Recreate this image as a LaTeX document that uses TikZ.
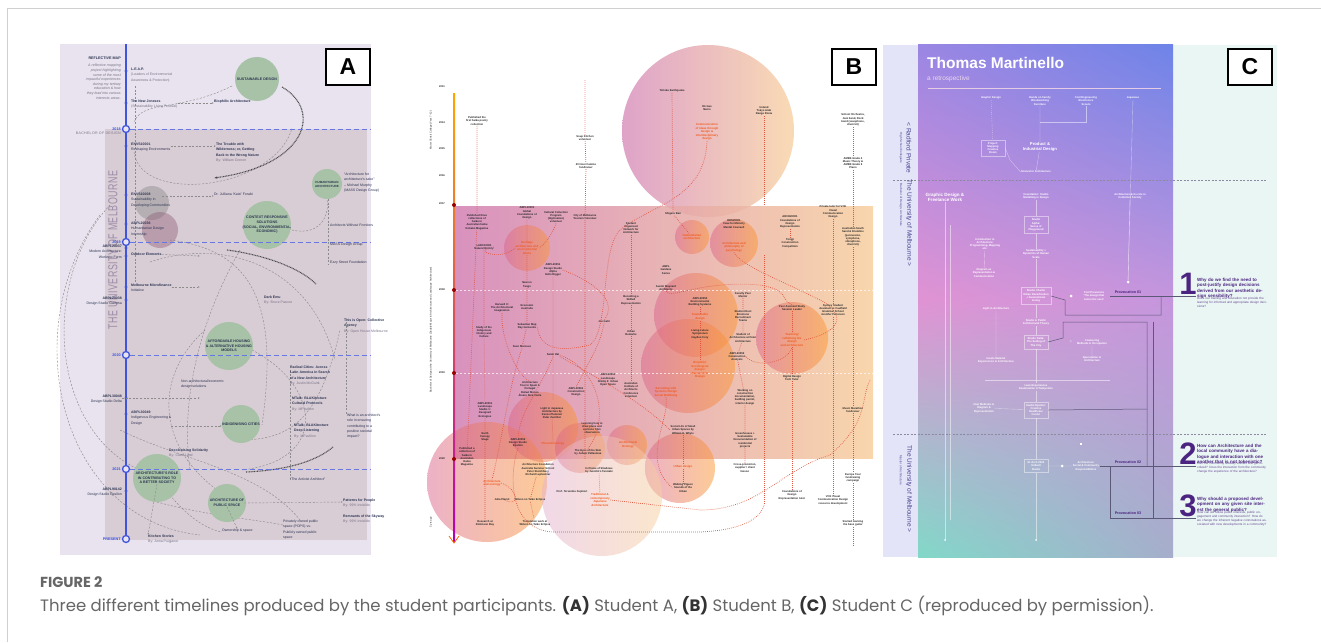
\documentclass[tikz,border=0pt]{standalone}
\usepackage{fontspec}
\setmainfont{Liberation Sans}
\newfontfamily\capfont{Poppins}
\usetikzlibrary{positioning, calc, arrows.meta, shadings}

\definecolor{frameline}{HTML}{CFCFCF}
\definecolor{lavbg}{HTML}{E8E3EE}
\definecolor{mauve}{HTML}{D8CCD5}
\definecolor{sage}{HTML}{A7C2A6}
\definecolor{tlblue}{HTML}{3F55DE}
\definecolor{navytxt}{HTML}{2C3452}
\definecolor{greytxt}{HTML}{7B7588}
\definecolor{uomgrey}{HTML}{9C8CA8}
\definecolor{dotred}{HTML}{E0553E}
\definecolor{hotorange}{HTML}{F05A1E}
\definecolor{magpink}{HTML}{D27FB3}
\definecolor{peach}{HTML}{F8CF9E}
\definecolor{cstrip}{HTML}{E3E4F7}
\definecolor{mint}{HTML}{EAF6F4}
\definecolor{ctopl}{HTML}{9B86E3}
\definecolor{ctopr}{HTML}{6E84E8}
\definecolor{cmidl}{HTML}{E093D3}
\definecolor{cmidr}{HTML}{C596DD}
\definecolor{cbotl}{HTML}{82D8C9}
\definecolor{cbotr}{HTML}{A6AECB}
\definecolor{provpurple}{HTML}{4B2380}
\definecolor{provgrey}{HTML}{5C5878}
\definecolor{captxt}{HTML}{666666}

\newcommand{\by}[1]{{\color{greytxt}#1}}

\tikzset{
  frame/.style={draw=frameline, line width=0.8},
  labelbox/.style={draw=black, line width=1.2, fill=white, minimum width=44,
    minimum height=36, inner sep=0, font=\bfseries\fontsize{23}{23}\selectfont},
  % panel A
  yearring/.style={circle, draw=tlblue, fill=lavbg, line width=1.3, inner sep=0, minimum size=7},
  yeartxt/.style={anchor=east, inner sep=0, text=tlblue, font=\bfseries\fontsize{3.8}{4}\selectfont},
  yearline/.style={draw=tlblue!80, line width=0.7, dash pattern=on 5 off 3},
  tldot/.style={circle, fill=tlblue, inner sep=0, minimum size=3.4},
  bubbletxt/.style={align=center, inner sep=0, text=navytxt, font=\bfseries\fontsize{3.6}{4.7}\selectfont},
  itemtxt/.style={anchor=north west, align=left, inner sep=0, text=navytxt,
    font=\fontsize{3.5}{5.2}\selectfont},
  leftitem/.style={itemtxt, anchor=north east, align=right},
  linkA/.style={draw=black!45, line width=0.45, dash pattern=on 2 off 1.6},
  thickdash/.style={draw=black!70, line width=1.1, dash pattern=on 0.9 off 0.7},
  % panel B
  btxt/.style={align=center, inner sep=0.4, text=black!85, font=\bfseries\fontsize{2.7}{3.3}\selectfont},
  bhot/.style={btxt, text=hotorange, font=\bfseries\fontsize{2.9}{3.5}\selectfont},
  reddots/.style={draw=dotred, line width=0.7, dash pattern=on 0.7 off 1.3},
  % panel C
  ctxt/.style={align=center, inner sep=0.4, text=white, font=\bfseries\fontsize{2.7}{3.3}\selectfont},
  cbox/.style={ctxt, draw=white, draw opacity=.45, line width=0.4, inner sep=2.2, minimum width=24},
  wline/.style={draw=white, draw opacity=.5, line width=0.35},
  cdot/.style={circle, fill=white, inner sep=0, minimum size=3},
  provline/.style={draw=provgrey, line width=0.5},
  provtxt/.style={inner sep=0.5, text=provpurple, font=\bfseries\fontsize{3.7}{4}\selectfont},
  qnum/.style={inner sep=0, text=provpurple, font=\bfseries\fontsize{31}{31}\selectfont},
  qhead/.style={anchor=north west, align=left, text width=70, inner sep=0, text=provpurple,
    font=\bfseries\fontsize{4.5}{5.3}\selectfont},
  qsub/.style={anchor=north west, align=left, text width=70, inner sep=0, text=provpurple!85,
    font=\fontsize{3.1}{3.9}\selectfont},
  stripname/.style={rotate=-90, inner sep=0, text=provgrey!80!blue, font=\fontsize{6.5}{6.5}\selectfont},
  stripsub/.style={rotate=-90, inner sep=0, text=provgrey!80!blue, font=\fontsize{3}{3}\selectfont}
}

\begin{document}
\begin{tikzpicture}[x=1pt, y=-1pt]
\useasboundingbox (0,0) rectangle (1321,642);
\fill[white] (0,0) rectangle (1321,642);
\draw[frame] (7,642) -- (7,8) -- (1321,8);

%% ================= A : reflective map =================
\fill[lavbg] (60,44) rectangle (371,555);
\fill[mauve] (105,129) rectangle (367,540);
\node[rotate=90, xscale=.68, text=uomgrey, font=\fontsize{13}{13}\selectfont\addfontfeature{LetterSpace=6}]
  (uom) at (113,250) {THE UNIVERSITY OF MELBOURNE};

% dashed web behind the bubbles
\begin{scope}[linkA]
  \draw (232,86) .. controls (180,112) and (140,100) .. (134,123);
  \draw (134,152) .. controls (140,205) and (275,190) .. (292,128);
  \draw (110,205) .. controls (40,280) and (50,430) .. (140,470);
  \draw (100,215) .. controls (15,330) and (60,520) .. (200,535);
  \draw (150,262) .. controls (220,238) and (310,262) .. (335,360);
  \draw (205,330) .. controls (150,380) and (160,450) .. (220,492);
  \draw (252,350) .. controls (320,385) and (330,460) .. (242,470);
  \draw (170,240) .. controls (250,250) and (280,300) .. (262,425);
  \draw (240,250) .. controls (200,320) and (180,400) .. (190,470);
  \draw (285,228) .. controls (320,240) and (330,215) .. (327,199);
  \draw (120,430) .. controls (180,460) and (260,470) .. (300,520);
  \draw (150,500) .. controls (200,515) and (260,520) .. (283,525);
  \draw (170,495) .. controls (190,520) and (210,530) .. (222,532);
  \draw (240,440) .. controls (290,440) and (320,420) .. (340,330);
  \draw (135,86) -- (135,282);
  \draw (328,199) -- (328,264);
  \draw (290,370) -- (290,480);
  \draw (346,322) -- (346,415);
\end{scope}
\draw[thickdash, -{Latex[length=3]}] (282,87) .. controls (322,110) and (308,165) .. (214,178);
\draw[thickdash] (227,250) .. controls (265,255) and (300,268) .. (316,284);
\draw[thickdash] (246,472) .. controls (290,470) and (318,460) .. (333,447);

% interest bubbles
\fill[black!45, opacity=.45] (152,203) circle (17);
\fill[black!55!magenta, opacity=.35] (160,230) circle (18);
\fill[sage] (257,79) circle (22);
\fill[sage] (327,184) circle (15);
\fill[sage] (267,225) circle (24);
\fill[sage] (229,346) circle (24);
\fill[sage] (241,424) circle (19);
\fill[sage] (157,478) circle (24);
\fill[sage] (227,503) circle (19);
\node[bubbletxt] (sust) at (257,79) {SUSTAINABLE DESIGN};
\node[bubbletxt, font=\bfseries\fontsize{3}{4}\selectfont] (human) at (327,184) {HUMANITARIAN\\ARCHITECTURE};
\node[bubbletxt] (context) at (267,225) {CONTEXT RESPONSIVE\\SOLUTIONS\\(SOCIAL, ENVIRONMENTAL,\\ECONOMIC)};
\node[bubbletxt] (afford) at (229,346) {AFFORDABLE HOUSING\\\& ALTERNATIVE HOUSING\\MODELS};
\node[bubbletxt] (indig) at (241,424) {INDIGENISING CITIES};
\node[bubbletxt] (role) at (157,478) {ARCHITECTURE'S ROLE\\IN CONTRIBUTING TO\\A BETTER SOCIETY};
\node[bubbletxt] (public) at (227,503) {ARCHITECTURE OF\\PUBLIC SPACE};

% time line with years
\draw[tlblue, line width=2.2] (126,44) -- (126,539);
\foreach \yr/\yy in {2018/129, 2019/242, 2020/355, 2021/469} {
  \draw[yearline] (130,\yy) -- (371,\yy);
  \node[yeartxt] (y\yr) at (121,\yy) {\yr};
  \node[yearring] (r\yr) at (126,\yy) {};
}
\node[yearring] (rnow) at (126,539) {};
\node[yeartxt] (ynow) at (121,539) {PRESENT};
\foreach \yy in {71,103,146,195,224,248,256,287,300,398,414,491}
  \node[tldot] at (126,\yy) {};

\node[leftitem, font=\bfseries\fontsize{3.7}{4}\selectfont] (refmap) at (121,57) {REFLECTIVE MAP};
\node[leftitem, text=greytxt, font=\itshape\fontsize{3.6}{4.6}\selectfont] (blurb) at (121,64)
  {A reflective mapping\\project highlighting\\some of the most\\impactful experiences\\during my tertiary\\education \& how\\they lead into various\\interests areas.};
\node[leftitem, text=greytxt, font=\fontsize{3.6}{4}\selectfont\addfontfeature{LetterSpace=8}] (bach) at (121,132) {BACHELOR OF DESIGN};

\node[itemtxt] (leap) at (131,68) {\textbf{L.E.A.P.}\\\by{(Leaders of Environmental}\\\by{Awareness \& Protection)}};
\node[itemtxt] (joneses) at (131,100) {\textbf{The New Joneses}\\\by{(Sustainability Living Festival)}};
\node[itemtxt] (biophilic) at (214,100) {\textbf{Biophilic Architecture}};
\node[itemtxt] (envs1) at (131,143) {\textbf{ENVS10001}\\Reshaping Environments};
\node[itemtxt] (trouble) at (216,143) {\textbf{The Trouble with}\\\textbf{Wilderness; or, Getting}\\\textbf{Back to the Wrong Nature}\\\by{By: William Cronon}};
\node[itemtxt] (murphy) at (344,173) {``Architecture for\\architecture's sake''\\-- Michael Murphy\\(MASS Design Group)};
\node[itemtxt] (envs8) at (131,193) {\textbf{ENVS10008}\\Sustainability in\\Developing Communities};
\node[itemtxt] (kaizi) at (214,193) {Dr. Julliana `Kaizi' Ferabi};
\node[itemtxt] (humint) at (131,222) {\textbf{ABPL20036}\\Humanitarian Design\\Internship};
\node[itemtxt] (awf) at (330,224) {Architects Without Frontiers};
\node[itemtxt] (mass) at (330,243) {MASS Design Group};
\node[itemtxt] (ezzy) at (330,261) {Ezzy Street Foundation};
\node[leftitem] (modern) at (122,245) {\textbf{ABPL20037}\\Modern Architecture:\\Works to Form};
\node[itemtxt] (outdoor) at (131,253) {\textbf{Outdoor Elements}};
\node[itemtxt] (micro) at (131,284) {\textbf{Melbourne Microfinance}\\Initiative};
\node[leftitem] (gamma) at (122,297) {\textbf{ABPL20038}\\Design Studio Gamma};
\node[itemtxt] (darkemu) at (264,296) {\textbf{Dark Emu}\\\by{By: Bruce Pascoe}};
\node[itemtxt] (openh) at (344,319) {\textbf{This is Open: Collective}\\\textbf{Agency}\\\by{By: Open House Melbourne}};
\node[itemtxt] (radical) at (290,366) {\textbf{Radical Cities: Across}\\\textbf{Latin America in Search}\\\textbf{of a New Architecture}\\\by{By: Justin McGuirk}};
\node[itemtxt] (nonarch) at (181,380) {Non-architectural/economic\\design solutions};
\node[leftitem] (delta) at (122,395) {\textbf{ABPL30048}\\Design Studio Delta};
\node[itemtxt] (indeng) at (131,411) {\textbf{ABPL30049}\\Indigenous Engineering \&\\Design};
\node[itemtxt] (mtalka) at (292,397) {\textbf{MTalk: BLAKitecture}\\\textbf{Cultural Protocols}\\\by{By: MPavilion}};
\node[itemtxt] (mtalkb) at (294,424) {\textbf{MTalk: BLAKitecture}\\\textbf{Deep Listening}\\\by{By: MPavilion}};
\node[itemtxt] (whatrole) at (347,414) {What is an architect's\\role in ensuring\\contributing to a\\positive societal\\impact?};
\node[itemtxt] (decol) at (169,449) {\textbf{Decolonising Solidarity}\\\by{By: Clare Land}};
\node[itemtxt] (activist) at (290,478) {``The Activist Architect''};
\node[leftitem] (epsilon) at (122,488) {\textbf{ABPL90142}\\Design Studio Epsilon};
\node[itemtxt] (patterns) at (343,499) {\textbf{Patterns for People}\\\by{By: 99\% Invisible}};
\node[itemtxt] (skyway) at (343,515) {\textbf{Remnants of the Skyway}\\\by{By: 99\% Invisible}};
\node[itemtxt] (pops) at (283,520) {Privately owned public\\space (POPS) vs.\\Publicly owned public\\space};
\node[itemtxt] (owner) at (222,529) {Ownership \& space};
\node[itemtxt] (kitchen) at (148,535) {\textbf{Kitchen Stories}\\\by{By: Anna Puigjaner}};

\begin{scope}[linkA, -{Latex[length=2]}]
  \draw (joneses.east |- 0,103) -- (biophilic.west |- 0,103);
  \draw (envs1.east |- 0,146) -- (trouble.west |- 0,146);
  \draw (envs8.north east) ++(-8,3) -- (kaizi.west |- 0,196);
  \draw (outdoor.east) -- (200,256);
  \draw (micro.east |- 0,287) -- (200,287);
  \draw (delta.east |- 0,398) -- (200,398);
  \draw (indeng.east |- 0,426) -- (222,426);
  \draw (public.east) -- (patterns.west |- 0,502);
  \draw (public.south) -- (owner.north);
  \draw (role.south) -- (kitchen.north west);
\end{scope}

\node[labelbox] (tagA) at (348,67) {A};

%% ================= B : timeline of interests =================
\shade[left color=magpink!75!white, right color=peach!80!white, opacity=.95] (708,131) circle (86);
\shade[left color=magpink, right color=peach, opacity=.85] (454,206) rectangle (873,458);
\begin{scope}[opacity=.5]
  \foreach \cx/\cy/\cr in {527/248/23, 692/237/17, 734/243/24, 696/315/42, 688/366/47,
      792/338/36, 487/482/60, 543/427/35, 580/448/25, 627/445/20, 680/468/35}
    \shade[left color=magpink!80!red, right color=orange!70!peach] (\cx,\cy) circle (\cr);
  \shade[left color=magpink!60!white, right color=peach] (602,496) circle (60);
\end{scope}
\draw[white, opacity=.7, line width=0.5, dash pattern=on 2 off 2] (456,290) -- (873,290) (456,373) -- (873,373);

% time axis
\shade[top color=orange!70!yellow, bottom color=magenta!70!black] (453.2,93) rectangle (455,541);
\draw[orange!80!red, line width=0.8] (449,536) -- (454,543) -- (459,536);
\foreach \yy in {205,290,373,459}
  \fill[red!60!black] (454,\yy) circle (2);
\foreach \yr/\yy in {2011/87, 2014/123, 2015/149, 2016/176, 2017/204, 2018/290, 2019/373, 2020/459}
  \node[btxt, font=\bfseries\fontsize{2.6}{3}\selectfont] (by\yr) at (442,\yy) {\yr};
\node[btxt, rotate=90, font=\fontsize{2.6}{3}\selectfont] (school) at (431,130) {Mater Christi College (Year 7--12)};
\node[btxt, rotate=90, font=\fontsize{2.6}{3}\selectfont] (bdes) at (431,330) {Bachelor of Design at the University of Melbourne (Double Major in Architecture and Landscape Architecture)};
\node[btxt, rotate=90, font=\fontsize{2.6}{3}\selectfont] (gapyr) at (431,522) {5 yrs ago};

% experiences
\node[btxt] (haiku1) at (477,121) {Published the\\first haiku poetry\\collection};
\node[btxt] (haiku2) at (477,222) {Published three\\collections of\\haiku in\\Australian haiku\\Kokako Magazine};
\node[btxt] (haiku3) at (467,457) {Published a\\collection of\\haiku in\\Australian\\Haiku\\Magazine};
\node[btxt] (larc) at (484,247) {LARC10001\\Natural History};
\node[btxt] (indhist) at (484,332) {Study of the\\Indigenous\\History and\\Culture};
\node[btxt] (landst) at (485,410) {ABPL20001\\Landscape\\Studio 1:\\Designed\\Ecologies};
\node[btxt] (robin) at (485,523) {Research at\\Robinson Bay};
\node[btxt] (gfd) at (527,213) {ABPL10001\\Global\\Foundations of\\Design};
\node[bhot] (heritage) at (527,248) {Heritage\\architecture and\\environmental\\ethics};
\node[btxt] (tango) at (527,285) {Neuron\\Tango};
\node[btxt] (harvard) at (502,308) {Harvard X:\\The Architectural\\Imagination};
\node[btxt] (econ) at (527,307) {Economic\\Australia};
\node[btxt] (sebmap) at (527,326) {Sebastian Map\\Ray Gemonds};
\node[btxt] (marcuse) at (522,347) {Sven Marcuse};
\node[btxt] (soup) at (585,138) {Soup Kitchen\\volunteer};
\node[btxt] (famine) at (586,166) {40 Hour Famine\\fundraiser};
\node[btxt] (cultural) at (556,217) {Cultural Collection\\Program\\(digitisation)\\volunteer};
\node[btxt] (cityvol) at (585,217) {City of Melbourne\\Tourism Volunteer};
\node[btxt] (alpha) at (553,270) {ABPL20051\\Design Studio\\Alpha\\Hello Rigger};
\node[btxt] (gehl) at (604,322) {Jan Gehl};
\node[btxt] (sarah) at (553,355) {Sarah Hal};
\node[btxt] (sonarch) at (631,228) {Student\\Organised\\Network for\\Architecture};
\node[btxt] (skilled) at (631,300) {Becoming a\\Skilled\\Representation};
\node[btxt] (unfor) at (631,333) {Urban\\Remarks};
\node[btxt] (tohoku) at (672,91) {Tohoku Earthquake};
\node[btxt] (gao) at (707,108) {Ok Gao\\Nemo};
\node[bhot] (commun) at (707,132) {Communication\\of ideas through\\design \&\\interdisciplinary\\design};
\node[btxt] (ireland) at (764,111) {Ireland\\Tokyo Arab\\Range Rovia};
\node[btxt] (shigeru) at (673,214) {Shigeru Ban};
\node[bhot] (humarch) at (692,237) {Humanitarian\\architecture};
\node[btxt] (abplgard) at (666,270) {ABPL\\Gardens\\Series};
\node[btxt] (maynard) at (666,288) {Austin Maynard\\Architects};
\node[btxt] (ministry) at (734,224) {DES20001\\Case for Ministry\\Mental Counsell};
\node[bhot] (psych) at (734,247) {Architecture and\\philosophy of\\psychology};
\node[btxt] (envbuild) at (700,302) {ABPL20050\\Environmental\\Building Systems};
\node[bhot] (susdes) at (700,317) {Sustainable\\design};
\node[btxt] (livingf) at (700,334) {Living Future\\Symposium\\Hayden Cory};
\node[bhot] (biodes) at (700,370) {Biophilic/\\Sociological\\design /\\Research in\\Design};
\node[btxt] (peer) at (743,295) {Faculty Peer\\Mentor};
\node[btxt] (host) at (743,316) {Student Host\\Emotions\\Recruitment\\Teams};
\node[btxt] (studarch) at (743,338) {Student of\\Architecture at Peter\\Architecture};
\node[btxt] (constr) at (737,357) {ABPL20052\\Construction\\Analysis};
\node[btxt] (fdr) at (790,222) {ARCH20001\\Foundations of\\Design\\Representation};
\node[btxt] (tongji) at (790,243) {Tongji\\Construction\\Competition};
\node[btxt] (pass) at (792,308) {Peer Assisted Study\\Session Leader};
\node[bhot] (teach) at (792,340) {Teaching/\\rethinking the\\design\\and architecture};
\node[btxt] (ddtt) at (792,378) {Digital Design\\Tech Tutor};
\node[btxt] (tutor) at (833,212) {Private tutor for VCE\\Visual\\Communication\\Design};
\node[btxt] (assist) at (833,310) {Sydney Student\\Assistant at Caulfield\\Grammar School\\Jennifer Patterson};
\node[btxt] (orch) at (853,120) {School Orchestra,\\Jazz band, Rock\\band (saxophone,\\drum kit)};
\node[btxt] (ameb) at (853,163) {AMEB Grade 4\\Music Theory \&\\AMEB Grade 6\\Piano};
\node[btxt] (drum) at (853,237) {Australian South\\Sand \& Drumline\\(percussion,\\xylophone,\\vibraphone,\\drum kit)};
\node[btxt] (marathon) at (853,410) {Music Marathon\\fundraiser};
\node[btxt] (spain) at (530,389) {Architecture\\Tour in Spain \&\\Portugal\\Rafael Moneo\\\'Alvaro Siza Vieira};
\node[btxt] (urbanos) at (608,380) {ABPL20051\\Landscape\\Studio 2: Urban\\Open Space};
\node[btxt] (cdesign) at (576,392) {ABPL30061\\Construction\\Design};
\node[btxt] (aiacv) at (631,390) {Australian\\Institute of\\Architects\\Conference\\volunteer};
\node[bhot] (wellb) at (666,392) {Becoming with\\Systems Design\\Social Wellbeing};
\node[btxt] (cdoc) at (745,397) {Working on\\construction\\documentation,\\building permit,\\interior design};
\node[btxt] (zumthor) at (552,413) {Light in Japanese\\Architecture by\\Kenzo Plummer\\Peter Zumthor};
\node[btxt] (plans) at (592,428) {Learning how to\\draw plans and\\sections from\\observation};
\node[btxt] (whyte) at (683,430) {Social Life of Small\\Urban Spaces by\\William H. Whyte};
\node[btxt] (canopy) at (485,437) {Earth\\Canopy\\Stage};
\node[btxt] (eps) at (518,443) {ABPL20052\\Design Studio\\Epsilon};
\node[bhot] (phenom) at (553,444) {Phenomenology};
\node[bhot] (archeco) at (628,445) {Architectural\\Ecology};
\node[btxt] (greenh) at (745,440) {Greenhouses +\\Sustainable\\Documentation of\\residential\\projects};
\node[btxt] (pallas) at (588,452) {The Eyes of the Skin\\by Juhani Pallasmaa};
\node[btxt] (afass) at (538,470) {Architecture Foundation\\Australia Summer School\\Peter Stutchbury\\Richard Leplastrier};
\node[btxt] (tanizaki) at (599,470) {In Praise of Shadows\\by Junichiro Tanizaki};
\node[bhot] (urband) at (683,467) {Urban design};
\node[btxt] (liaison) at (745,468) {Cross-promotion,\\supplier / client\\liaison};
\node[btxt] (europe) at (853,478) {Europe Tour\\fundraising\\campaign};
\node[bhot] (ecol) at (492,483) {Architecture\\and ecology};
\node[btxt] (pigeon) at (683,488) {Walking Pigeon\\Sounds of the\\Urban};
\node[btxt] (fujimori) at (572,492) {Prof. Terunobu Fujimori};
\node[bhot] (japan) at (600,500) {Traditional \&\\contemporary\\Japanese\\Architecture};
\node[btxt] (fdrtutor) at (792,495) {Foundations of\\Design\\Representation tutor};
\node[btxt] (vcecd) at (833,500) {VCE Visual\\Communication Design\\resource development};
\node[btxt] (julia) at (502,500) {Julia Plamit};
\node[btxt] (wilson) at (530,500) {Wilson on Taiko Eclipse};
\node[btxt] (transl) at (535,523) {Translation work at\\Wilson on Taiko Eclipse};
\node[btxt] (bass) at (853,523) {Started learning\\the bass guitar};

% threads between the experiences
\begin{scope}[reddots]
  \draw (haiku1) -- (haiku2) (haiku2) -- (haiku3);
  \draw (larc) -- (indhist) (indhist) -- (landst) (landst) -- (canopy) (canopy) -- (robin);
  \draw (585,80) -- (soup) (soup) -- (famine) (famine) -- (cityvol) (cityvol) -- (585,460);
  \draw (tohoku) -- (shigeru) (shigeru) -- (humarch);
  \draw (ireland) -- (764,205) (764,255) -- (764,505);
  \draw (orch) -- (ameb) (ameb) -- (drum) (drum) -- (marathon) (marathon) -- (europe) (europe) -- (bass) (bass) -- (853,545);
  \draw (gfd) -- (heritage) (heritage) -- (tango) (tango) -- (econ) (econ) -- (sebmap) (sebmap) -- (marcuse);
  \draw (sonarch) -- (skilled) (skilled) -- (unfor) (unfor) -- (aiacv);
  \draw (fdr) -- (tongji) (pass) -- (teach) (teach) -- (ddtt) (ddtt) -- (fdrtutor);
  \draw (tutor) -- (assist) (assist) -- (vcecd);
  \draw (envbuild) -- (susdes) (susdes) -- (livingf) (livingf) -- (biodes);
  \draw (peer) -- (host) (host) -- (studarch) (studarch) -- (constr) (constr) -- (cdoc) (cdoc) -- (greenh) (greenh) -- (liaison);
  \draw (alpha) -- (553,400) (zumthor) -- (phenom);
  \draw (whyte) -- (urband) (urband) -- (pigeon);
  \draw (afass) -- (wilson) (wilson) -- (transl);
  \draw (tanizaki) -- (japan);
  \draw (heritage.west) .. controls (500,262) and (470,250) .. (larc.east);
  \draw (cultural.south) .. controls (550,240) and (540,248) .. (heritage.east);
  \draw (commun.south) .. controls (705,200) and (650,205) .. (620,230) .. controls (600,250) and (610,330) .. (590,345) .. controls (560,352) and (540,350) .. (sebmap.east);
  \draw (sarah.east) .. controls (600,370) and (610,420) .. (pallas.north);
  \draw (sarah.south) .. controls (540,390) and (520,410) .. (eps.north);
  \draw (sarah.south east) .. controls (600,380) and (640,400) .. (whyte.west);
  \draw (marcuse.south) .. controls (510,380) and (500,450) .. (ecol.north);
  \draw (ecol.east) .. controls (520,490) and (520,510) .. (julia.north);
  \draw (eps.south) .. controls (510,470) and (505,535) .. (560,532) -- (700,532) .. controls (740,530) and (760,520) .. (764,505);
  \draw (japan.east) -- (700,510) .. controls (760,510) and (780,470) .. (830,455) .. controls (870,420) and (860,400) .. (870,380);
  \draw (maynard.south) .. controls (670,300) and (700,280) .. (760,285) .. controls (790,290) and (780,300) .. (pass.north);
  \draw (psych.south) .. controls (740,265) and (780,280) .. (820,300) .. controls (840,310) and (850,330) .. (teach.east);
  \draw (wellb.south) .. controls (670,420) and (640,460) .. (pigeon.west);
  \draw (constr.east) .. controls (760,370) and (790,360) .. (teach.south);
  \draw (alpha.east) .. controls (590,280) and (620,300) .. (gehl.north);
  \draw (gehl.south) .. controls (600,345) and (590,360) .. (cdesign.north);
  \draw (harvard.south) .. controls (500,340) and (520,380) .. (spain.north);
\end{scope}

\node[labelbox] (tagB) at (854,67) {B};

%% ================= C : a retrospective =================
\fill[cstrip] (883,45) rectangle (918,557);
\fill[mint] (1173,45) rectangle (1277,557);
\shade[upper left=ctopl, upper right=ctopr, lower left=cmidl, lower right=cmidr] (918,45) rectangle (1173,300);
\shade[upper left=cmidl, upper right=cmidr, lower left=cbotl, lower right=cbotr] (918,300) rectangle (1173,557);
\draw[provgrey!70, line width=0.5, dash pattern=on 2 off 1.5] (893,180) -- (1266,180) (893,434) -- (1266,434);

\node[stripname] (radford) at (909,148) {< Radford Private};
\node[stripsub] (radfordsub) at (901,148) {High School Collegiate};
\node[stripname] (uomba) at (909,223) {The University of Melbourne >};
\node[stripsub] (uombasub) at (901,205) {Bachelor of Design, Architecture};
\node[stripname] (uomma) at (909,489) {The University of Melbourne >};
\node[stripsub] (uommasub) at (901,470) {Master of Architecture};

\node[anchor=west, inner sep=0, text=white, font=\bfseries\fontsize{15.5}{16}\selectfont] (title) at (927,63) {Thomas Martinello};
\node[anchor=west, inner sep=0, text=white!85!violet, font=\fontsize{6.5}{7}\selectfont] (subtitle) at (927,79) {a retrospective};
\draw[white!80!violet, line width=0.5] (928,88) -- (1161,88);

\node[ctxt] (cg1) at (991,98) {Graphic Design};
\node[ctxt] (cg2) at (1040,101) {Hands on Family\\Woodworking\\Furniture};
\node[ctxt] (cg3) at (1086,101) {Civil Engineering\\Electronics\\Scouts};
\node[ctxt] (cg4) at (1133,98) {Japanese};
\node[cbox] (cbox1) at (993,148) {Project:\\Mapping\\Creative\\Room};
\node[ctxt, font=\bfseries\fontsize{4.2}{5}\selectfont] (cpid) at (1040,147) {Product \&\\Industrial Design};
\node[ctxt] (cint) at (1036,172) {Interest in Architecture};
\node[ctxt, font=\bfseries\fontsize{4.6}{5.2}\selectfont] (cgfw) at (945,197) {Graphic Design \&\\Freelance Work};
\node[ctxt] (cfound) at (1036,196) {Foundation: Studio\\Modelling in Design};
\node[ctxt] (carch) at (1130,196) {Architecture \& its role in\\Collective Society};
\node[cbox] (cbox2) at (1036,225) {Studio\\Alpha:\\Sense of\\Playground};
\node[ctxt] (cintro) at (985,244) {Introduction to\\Architecture:\\Programming, Mapping\\etc.};
\node[ctxt] (csust) at (1036,254) {Sustainability +\\Dynamics of Human\\Scale};
\node[ctxt] (cdiag) at (984,273) {Diagram as\\Representation \&\\Communication};
\node[cdot] (cdot1) at (1128,282) {};
\node[cbox] (cbox3) at (1036,296) {Studio Charlie\\Urban Densification\\+ Generational\\Living};
\node[cdot] (cdot2) at (1071,296) {};
\node[ctxt] (ccivil) at (1094,296) {Civil Provisions\\`The design that\\cannot be seen'};
\node[ctxt] (clight) at (996,309) {Light in Architecture};
\node[ctxt] (cstud) at (1036,322) {Studio in Public\\Architectural Theory};
\node[cbox] (cbox4) at (1036,342) {Studio Delta:\\The Setting of\\The City};
\node[ctxt] (carrow) at (1071,342) {>};
\node[ctxt] (ccoal) at (1092,342) {Coalescing\\Methods in Occupation};
\node[ctxt] (cinnate) at (996,360) {Innate Material\\Experiences in Architecture};
\node[ctxt] (cspec) at (1092,359) {Speculation in\\Architecture};
\node[ctxt] (clean) at (1036,387) {Lean Experiences\\Examination of Subjection};
\node[ctxt] (cnew) at (984,408) {New Methods in\\Diagram \&\\Representation};
\node[cbox] (cbox5) at (1036,410) {Studio Epsilon:\\Creative\\Healthcare\\Center};
\node[cdot, rectangle, minimum size=2.5] (cdot3) at (1081,444) {};
\node[cbox] (cbox6) at (1036,466) {M. Arch 2021\\Unbuilt\\Studio};
\node[cdot] (cdot4) at (1062,466) {};
\node[ctxt] (csocial) at (1086,466) {Architecture:\\Social \& Community\\Responsibilities};
\node[cdot, minimum size=2] (cend1) at (945,540) {};
\node[cdot, minimum size=2] (cend2) at (1036,540) {};

\begin{scope}[wline]
  \draw[dash pattern=on 1 off 1] (cg1) -- (cbox1);
  \draw (cg2) -- (cpid) (cpid) -- (cint);
  \draw (cg3) |- (1040,122);
  \draw (cg4) -- (cdot1);
  \draw (cbox1.east) -- (1010,160) -- (cint.west);
  \draw (cgfw) -- (cend1);
  \draw (cfound) -- (cbox2) (cbox2) -- (csust) (csust) -- (cbox3) (cbox3) -- (cstud) (cstud) -- (cbox4)
        (cbox4) -- (clean) (clean) -- (cbox5) (cbox5) -- (cbox6) (cbox6) -- (cend2);
  \draw (cintro) -- (cdiag) (clight) -- (cinnate) (ccoal) -- (cspec) (carch) -- (cdot1);
  \draw (cnew) -- (cbox5) (cdot4) -- (csocial) (cbox6) -- (cdot4);
  \draw (950,225) -- (950,520) (985,380) -- (1110,380);
\end{scope}

\node[provtxt] (prov1) at (1128,292) {Provocation 01};
\node[provtxt] (prov2) at (1128,462) {Provocation 02};
\node[provtxt] (prov3) at (1128,513) {Provocation 03};
\begin{scope}[provline]
  \draw (1110,296) -- (1196,296);
  \draw (cbox3.east) -- (1065,300) -- (1065,315) -- (1161,315) -- (1161,296);
  \draw (cbox4.east) -- (1063,338) -- (1063,322) -- (1147,322) -- (1147,466);
  \draw (1153,322) -- (1153,518);
  \draw (cbox5.east) -- (1147,409);
  \draw (1110,466) -- (1196,466) (1110,518) -- (1196,518) (1110,466) -- (1110,518);
  \draw (csocial.east) -- (1110,466);
\end{scope}

\node[qnum] (q1) at (1188,284) {1};
\node[qnum] (q2) at (1188,454) {2};
\node[qnum] (q3) at (1188,506) {3};
\node[qhead] (q1head) at (1197,278) {Why do we find the need to post-justify design decisions derived from our aesthetic design sensibility?};
\node[qsub, below=1.2 of q1head.south west, anchor=north west] (q1sub) {Does our training and education not provide the learning for informed and appropriate design decisions?};
\node[qhead] (q2head) at (1197,444) {How can Architecture and the local community have a dialogue and interaction with one another that is not tokenistic?};
\node[qsub, below=1.2 of q2head.south west, anchor=north west] (q2sub) {Can the community actually interact and get involved? Does the interaction from the community change the experience of the architecture?};
\node[qhead] (q3head) at (1197,497) {Why should a proposed development on any given site interest the general public?};
\node[qsub, below=1.2 of q3head.south west, anchor=north west] (q3sub) {How can we utilise public interests, public engagement and community interaction? How do we change the inherent negative connotations associated with new developments in a community?};

\node[labelbox] (tagC) at (1250,67) {C};

%% ================= caption =================
\node[anchor=west, inner sep=0, text=captxt, font=\capfont\bfseries\fontsize{14.5}{15}\selectfont] (figno) at (40,582) {FIGURE 2};
\node[anchor=west, inner sep=0, text=captxt, font=\capfont\fontsize{16.5}{18}\selectfont] (caption) at (40,606)
  {Three different timelines produced by the student participants. {\color{black!80}\bfseries(A)} Student A, {\color{black!80}\bfseries(B)} Student B, {\color{black!80}\bfseries(C)} Student C (reproduced by permission).};
\end{tikzpicture}
\end{document}
